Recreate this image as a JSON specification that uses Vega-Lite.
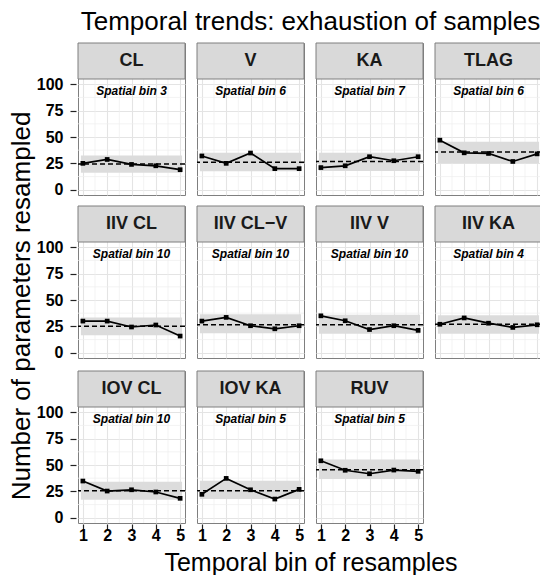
{
  "$schema": "https://vega.github.io/schema/vega-lite/v6.json",
  "padding": {"left": 8, "top": 9, "right": 0, "bottom": 0},
  "title": {"text": "Temporal trends: exhaustion of samples", "fontSize": 26, "fontWeight": "normal", "color": "black", "anchor": "middle", "offset": 6, "dx": 34},
  "spacing": 0,
  "data": {"values": [
    {"param": "CL", "spatial": "Spatial bin 3", "bin": 1, "n": 25, "exp": 24.5, "lo": 16, "hi": 32.5},
    {"param": "CL", "spatial": "Spatial bin 3", "bin": 2, "n": 28.7, "exp": 24.5, "lo": 16, "hi": 32.5},
    {"param": "CL", "spatial": "Spatial bin 3", "bin": 3, "n": 24, "exp": 24.5, "lo": 16, "hi": 32.5},
    {"param": "CL", "spatial": "Spatial bin 3", "bin": 4, "n": 22.7, "exp": 24.5, "lo": 16, "hi": 32.5},
    {"param": "CL", "spatial": "Spatial bin 3", "bin": 5, "n": 19, "exp": 24.5, "lo": 16, "hi": 32.5},
    {"param": "V", "spatial": "Spatial bin 6", "bin": 1, "n": 32, "exp": 26, "lo": 17.5, "hi": 35},
    {"param": "V", "spatial": "Spatial bin 6", "bin": 2, "n": 25, "exp": 26, "lo": 17.5, "hi": 35},
    {"param": "V", "spatial": "Spatial bin 6", "bin": 3, "n": 34.8, "exp": 26, "lo": 17.5, "hi": 35},
    {"param": "V", "spatial": "Spatial bin 6", "bin": 4, "n": 20, "exp": 26, "lo": 17.5, "hi": 35},
    {"param": "V", "spatial": "Spatial bin 6", "bin": 5, "n": 20, "exp": 26, "lo": 17.5, "hi": 35},
    {"param": "KA", "spatial": "Spatial bin 7", "bin": 1, "n": 21, "exp": 26.8, "lo": 17.7, "hi": 35},
    {"param": "KA", "spatial": "Spatial bin 7", "bin": 2, "n": 22.7, "exp": 26.8, "lo": 17.7, "hi": 35},
    {"param": "KA", "spatial": "Spatial bin 7", "bin": 3, "n": 31.3, "exp": 26.8, "lo": 17.7, "hi": 35},
    {"param": "KA", "spatial": "Spatial bin 7", "bin": 4, "n": 27.5, "exp": 26.8, "lo": 17.7, "hi": 35},
    {"param": "KA", "spatial": "Spatial bin 7", "bin": 5, "n": 31.3, "exp": 26.8, "lo": 17.7, "hi": 35},
    {"param": "TLAG", "spatial": "Spatial bin 6", "bin": 1, "n": 47, "exp": 35.7, "lo": 25, "hi": 45.5},
    {"param": "TLAG", "spatial": "Spatial bin 6", "bin": 2, "n": 35, "exp": 35.7, "lo": 25, "hi": 45.5},
    {"param": "TLAG", "spatial": "Spatial bin 6", "bin": 3, "n": 34.4, "exp": 35.7, "lo": 25, "hi": 45.5},
    {"param": "TLAG", "spatial": "Spatial bin 6", "bin": 4, "n": 26.8, "exp": 35.7, "lo": 25, "hi": 45.5},
    {"param": "TLAG", "spatial": "Spatial bin 6", "bin": 5, "n": 34, "exp": 35.7, "lo": 25, "hi": 45.5},
    {"param": "IIV CL", "spatial": "Spatial bin 10", "bin": 1, "n": 30, "exp": 25, "lo": 16.5, "hi": 33.5},
    {"param": "IIV CL", "spatial": "Spatial bin 10", "bin": 2, "n": 30, "exp": 25, "lo": 16.5, "hi": 33.5},
    {"param": "IIV CL", "spatial": "Spatial bin 10", "bin": 3, "n": 24.4, "exp": 25, "lo": 16.5, "hi": 33.5},
    {"param": "IIV CL", "spatial": "Spatial bin 10", "bin": 4, "n": 26.3, "exp": 25, "lo": 16.5, "hi": 33.5},
    {"param": "IIV CL", "spatial": "Spatial bin 10", "bin": 5, "n": 15.8, "exp": 25, "lo": 16.5, "hi": 33.5},
    {"param": "IIV CL−V", "spatial": "Spatial bin 10", "bin": 1, "n": 30, "exp": 26.5, "lo": 18.5, "hi": 36.5},
    {"param": "IIV CL−V", "spatial": "Spatial bin 10", "bin": 2, "n": 33.5, "exp": 26.5, "lo": 18.5, "hi": 36.5},
    {"param": "IIV CL−V", "spatial": "Spatial bin 10", "bin": 3, "n": 25.6, "exp": 26.5, "lo": 18.5, "hi": 36.5},
    {"param": "IIV CL−V", "spatial": "Spatial bin 10", "bin": 4, "n": 22.7, "exp": 26.5, "lo": 18.5, "hi": 36.5},
    {"param": "IIV CL−V", "spatial": "Spatial bin 10", "bin": 5, "n": 25.6, "exp": 26.5, "lo": 18.5, "hi": 36.5},
    {"param": "IIV V", "spatial": "Spatial bin 10", "bin": 1, "n": 35, "exp": 26.5, "lo": 18, "hi": 36},
    {"param": "IIV V", "spatial": "Spatial bin 10", "bin": 2, "n": 30.3, "exp": 26.5, "lo": 18, "hi": 36},
    {"param": "IIV V", "spatial": "Spatial bin 10", "bin": 3, "n": 22, "exp": 26.5, "lo": 18, "hi": 36},
    {"param": "IIV V", "spatial": "Spatial bin 10", "bin": 4, "n": 25.6, "exp": 26.5, "lo": 18, "hi": 36},
    {"param": "IIV V", "spatial": "Spatial bin 10", "bin": 5, "n": 21.2, "exp": 26.5, "lo": 18, "hi": 36},
    {"param": "IIV KA", "spatial": "Spatial bin 4", "bin": 1, "n": 27, "exp": 27, "lo": 18, "hi": 35.5},
    {"param": "IIV KA", "spatial": "Spatial bin 4", "bin": 2, "n": 33, "exp": 27, "lo": 18, "hi": 35.5},
    {"param": "IIV KA", "spatial": "Spatial bin 4", "bin": 3, "n": 28, "exp": 27, "lo": 18, "hi": 35.5},
    {"param": "IIV KA", "spatial": "Spatial bin 4", "bin": 4, "n": 24, "exp": 27, "lo": 18, "hi": 35.5},
    {"param": "IIV KA", "spatial": "Spatial bin 4", "bin": 5, "n": 26.5, "exp": 27, "lo": 18, "hi": 35.5},
    {"param": "IOV CL", "spatial": "Spatial bin 10", "bin": 1, "n": 34.8, "exp": 25.6, "lo": 17.1, "hi": 34.1},
    {"param": "IOV CL", "spatial": "Spatial bin 10", "bin": 2, "n": 25.3, "exp": 25.6, "lo": 17.1, "hi": 34.1},
    {"param": "IOV CL", "spatial": "Spatial bin 10", "bin": 3, "n": 26.5, "exp": 25.6, "lo": 17.1, "hi": 34.1},
    {"param": "IOV CL", "spatial": "Spatial bin 10", "bin": 4, "n": 24.4, "exp": 25.6, "lo": 17.1, "hi": 34.1},
    {"param": "IOV CL", "spatial": "Spatial bin 10", "bin": 5, "n": 18.4, "exp": 25.6, "lo": 17.1, "hi": 34.1},
    {"param": "IOV KA", "spatial": "Spatial bin 5", "bin": 1, "n": 22.2, "exp": 25.6, "lo": 17.7, "hi": 35},
    {"param": "IOV KA", "spatial": "Spatial bin 5", "bin": 2, "n": 37.3, "exp": 25.6, "lo": 17.7, "hi": 35},
    {"param": "IOV KA", "spatial": "Spatial bin 5", "bin": 3, "n": 26.5, "exp": 25.6, "lo": 17.7, "hi": 35},
    {"param": "IOV KA", "spatial": "Spatial bin 5", "bin": 4, "n": 17.7, "exp": 25.6, "lo": 17.7, "hi": 35},
    {"param": "IOV KA", "spatial": "Spatial bin 5", "bin": 5, "n": 26.9, "exp": 25.6, "lo": 17.7, "hi": 35},
    {"param": "RUV", "spatial": "Spatial bin 5", "bin": 1, "n": 54, "exp": 45.5, "lo": 36.7, "hi": 55.3},
    {"param": "RUV", "spatial": "Spatial bin 5", "bin": 2, "n": 45, "exp": 45.5, "lo": 36.7, "hi": 55.3},
    {"param": "RUV", "spatial": "Spatial bin 5", "bin": 3, "n": 41.7, "exp": 45.5, "lo": 36.7, "hi": 55.3},
    {"param": "RUV", "spatial": "Spatial bin 5", "bin": 4, "n": 45.2, "exp": 45.5, "lo": 36.7, "hi": 55.3},
    {"param": "RUV", "spatial": "Spatial bin 5", "bin": 5, "n": 44, "exp": 45.5, "lo": 36.7, "hi": 55.3}
  ]},
  "hconcat": [
    {
      "width": 22,
      "height": 526,
      "view": {"stroke": null},
      "data": {"values": [{"t": "Number of parameters resampled"}]},
      "mark": {"type": "text", "angle": 270, "fontSize": 26, "color": "black", "baseline": "middle", "align": "center"},
      "encoding": {"text": {"field": "t"}}
    },
    {
      "spacing": 8,
      "vconcat": [
        {
          "transform": [{"filter": {"field": "param", "oneOf": ["CL", "V", "KA", "TLAG", "IIV CL", "IIV CL−V", "IIV V", "IIV KA"]}}],
          "facet": {
            "field": "param", "type": "nominal",
            "sort": ["CL", "V", "KA", "TLAG", "IIV CL", "IIV CL−V", "IIV V", "IIV KA"],
            "header": {"labels": false, "labelExpr": "''", "labelFontSize": 1, "labelPadding": 0, "title": null}
          },
          "columns": 4,
          "spacing": {"row": 8, "column": 8},
          "spec": {
            "width": 107,
            "height": 152,
            "layer": [
              {
                "mark": {"type": "line", "opacity": 0},
                "encoding": {
                  "x": {"field": "bin", "type": "quantitative",
                    "scale": {"domain": [0.8, 5.2], "nice": false, "zero": false},
                    "axis": {"values": [1, 2, 3, 4, 5], "tickCount": 20, "format": "d", "title": null, "domain": false, "grid": true, "gridColor": "#e4e4e4", "gridWidth": 1.1, "labels": false, "ticks": false}},
                  "y": {"field": "n", "type": "quantitative",
                    "scale": {"domain": [-5, 139.14], "nice": false, "zero": false},
                    "axis": {"values": [0, 25, 50, 75, 100], "tickCount": 20, "format": "d", "title": null, "domain": false, "grid": true, "gridColor": "#e4e4e4", "gridWidth": 1.1,
                      "tickSize": 6, "tickColor": "#222222", "tickWidth": 1.2, "labelPadding": 7,
                      "labelFontSize": 16, "labelFontWeight": "bold", "labelColor": "black", "labelFlush": false, "labelOverlap": false}}
                }
              },
              {"transform": [{"filter": "datum.bin == 1"}], "mark": {"type": "rule", "color": "#efefef", "strokeWidth": 0.7}, "encoding": {"y": {"datum": 12.5, "type": "quantitative"}}},
              {"transform": [{"filter": "datum.bin == 1"}], "mark": {"type": "rule", "color": "#efefef", "strokeWidth": 0.7}, "encoding": {"y": {"datum": 37.5, "type": "quantitative"}}},
              {"transform": [{"filter": "datum.bin == 1"}], "mark": {"type": "rule", "color": "#efefef", "strokeWidth": 0.7}, "encoding": {"y": {"datum": 62.5, "type": "quantitative"}}},
              {"transform": [{"filter": "datum.bin == 1"}], "mark": {"type": "rule", "color": "#efefef", "strokeWidth": 0.7}, "encoding": {"y": {"datum": 87.5, "type": "quantitative"}}},
              {"transform": [{"filter": "datum.bin == 1"}], "mark": {"type": "rule", "color": "#efefef", "strokeWidth": 0.7}, "encoding": {"x": {"datum": 1.5, "type": "quantitative"}}},
              {"transform": [{"filter": "datum.bin == 1"}], "mark": {"type": "rule", "color": "#efefef", "strokeWidth": 0.7}, "encoding": {"x": {"datum": 2.5, "type": "quantitative"}}},
              {"transform": [{"filter": "datum.bin == 1"}], "mark": {"type": "rule", "color": "#efefef", "strokeWidth": 0.7}, "encoding": {"x": {"datum": 3.5, "type": "quantitative"}}},
              {"transform": [{"filter": "datum.bin == 1"}], "mark": {"type": "rule", "color": "#efefef", "strokeWidth": 0.7}, "encoding": {"x": {"datum": 4.5, "type": "quantitative"}}},
              {
                "transform": [{"filter": "datum.bin == 1"}],
                "mark": {"type": "rect", "color": "#dcdcdc"},
                "encoding": {"x": {"datum": 0.92, "type": "quantitative"}, "x2": {"datum": 5.08}, "y": {"field": "lo", "type": "quantitative"}, "y2": {"field": "hi"}}
              },
              {
                "transform": [{"filter": "datum.bin == 1"}],
                "mark": {"type": "rule", "color": "black", "strokeWidth": 1.5, "strokeDash": [5, 3]},
                "encoding": {"y": {"field": "exp", "type": "quantitative"}}
              },
              {
                "mark": {"type": "line", "color": "black", "strokeWidth": 1.7},
                "encoding": {"x": {"field": "bin", "type": "quantitative"}, "y": {"field": "n", "type": "quantitative"}}
              },
              {
                "mark": {"type": "square", "filled": true, "color": "black", "size": 22, "opacity": 1},
                "encoding": {"x": {"field": "bin", "type": "quantitative"}, "y": {"field": "n", "type": "quantitative"}}
              },
              {
                "transform": [{"filter": "datum.bin == 1"}],
                "mark": {"type": "rect", "fill": "#d9d9d9", "stroke": "#7f7f7f", "strokeWidth": 1},
                "encoding": {"x": {"datum": 0.8, "type": "quantitative"}, "x2": {"datum": 5.2}, "y": {"datum": 105, "type": "quantitative"}, "y2": {"datum": 139.14}}
              },
              {
                "transform": [{"filter": "datum.bin == 1"}],
                "mark": {"type": "text", "fontSize": 18, "fontWeight": "bold", "color": "#1a1a1a", "baseline": "middle", "align": "center"},
                "encoding": {"x": {"datum": 3, "type": "quantitative"}, "y": {"datum": 122, "type": "quantitative"}, "text": {"field": "param"}}
              },
              {
                "transform": [{"filter": "datum.bin == 1"}],
                "mark": {"type": "text", "fontSize": 12, "fontWeight": "bold", "fontStyle": "italic", "color": "black", "baseline": "middle", "align": "center"},
                "encoding": {"x": {"datum": 3, "type": "quantitative"}, "y": {"datum": 93.5, "type": "quantitative"}, "text": {"field": "spatial"}}
              }
            ]
          }
        },
        {
          "transform": [{"filter": {"field": "param", "oneOf": ["IOV CL", "IOV KA", "RUV"]}}],
          "facet": {
            "field": "param", "type": "nominal",
            "sort": ["IOV CL", "IOV KA", "RUV"],
            "header": {"labels": false, "labelExpr": "''", "labelFontSize": 1, "labelPadding": 0, "title": null}
          },
          "columns": 4,
          "spacing": {"row": 8, "column": 8},
          "spec": {
            "width": 107,
            "height": 152,
            "layer": [
              {
                "mark": {"type": "line", "opacity": 0},
                "encoding": {
                  "x": {"field": "bin", "type": "quantitative",
                    "scale": {"domain": [0.8, 5.2], "nice": false, "zero": false},
                    "axis": {"values": [1, 2, 3, 4, 5], "tickCount": 20, "format": "d", "title": null, "domain": false, "grid": true, "gridColor": "#e4e4e4", "gridWidth": 1.1,
                      "tickSize": 5, "tickColor": "#222222", "tickWidth": 1.2, "labelPadding": -2,
                      "labelFontSize": 16, "labelFontWeight": "bold", "labelColor": "black", "labelFlush": false, "labelOverlap": false}},
                  "y": {"field": "n", "type": "quantitative",
                    "scale": {"domain": [-5, 139.14], "nice": false, "zero": false},
                    "axis": {"values": [0, 25, 50, 75, 100], "tickCount": 20, "format": "d", "title": null, "domain": false, "grid": true, "gridColor": "#e4e4e4", "gridWidth": 1.1,
                      "tickSize": 6, "tickColor": "#222222", "tickWidth": 1.2, "labelPadding": 7,
                      "labelFontSize": 16, "labelFontWeight": "bold", "labelColor": "black", "labelFlush": false, "labelOverlap": false}}
                }
              },
              {"transform": [{"filter": "datum.bin == 1"}], "mark": {"type": "rule", "color": "#efefef", "strokeWidth": 0.7}, "encoding": {"y": {"datum": 12.5, "type": "quantitative"}}},
              {"transform": [{"filter": "datum.bin == 1"}], "mark": {"type": "rule", "color": "#efefef", "strokeWidth": 0.7}, "encoding": {"y": {"datum": 37.5, "type": "quantitative"}}},
              {"transform": [{"filter": "datum.bin == 1"}], "mark": {"type": "rule", "color": "#efefef", "strokeWidth": 0.7}, "encoding": {"y": {"datum": 62.5, "type": "quantitative"}}},
              {"transform": [{"filter": "datum.bin == 1"}], "mark": {"type": "rule", "color": "#efefef", "strokeWidth": 0.7}, "encoding": {"y": {"datum": 87.5, "type": "quantitative"}}},
              {"transform": [{"filter": "datum.bin == 1"}], "mark": {"type": "rule", "color": "#efefef", "strokeWidth": 0.7}, "encoding": {"x": {"datum": 1.5, "type": "quantitative"}}},
              {"transform": [{"filter": "datum.bin == 1"}], "mark": {"type": "rule", "color": "#efefef", "strokeWidth": 0.7}, "encoding": {"x": {"datum": 2.5, "type": "quantitative"}}},
              {"transform": [{"filter": "datum.bin == 1"}], "mark": {"type": "rule", "color": "#efefef", "strokeWidth": 0.7}, "encoding": {"x": {"datum": 3.5, "type": "quantitative"}}},
              {"transform": [{"filter": "datum.bin == 1"}], "mark": {"type": "rule", "color": "#efefef", "strokeWidth": 0.7}, "encoding": {"x": {"datum": 4.5, "type": "quantitative"}}},
              {
                "transform": [{"filter": "datum.bin == 1"}],
                "mark": {"type": "rect", "color": "#dcdcdc"},
                "encoding": {"x": {"datum": 0.92, "type": "quantitative"}, "x2": {"datum": 5.08}, "y": {"field": "lo", "type": "quantitative"}, "y2": {"field": "hi"}}
              },
              {
                "transform": [{"filter": "datum.bin == 1"}],
                "mark": {"type": "rule", "color": "black", "strokeWidth": 1.5, "strokeDash": [5, 3]},
                "encoding": {"y": {"field": "exp", "type": "quantitative"}}
              },
              {
                "mark": {"type": "line", "color": "black", "strokeWidth": 1.7},
                "encoding": {"x": {"field": "bin", "type": "quantitative"}, "y": {"field": "n", "type": "quantitative"}}
              },
              {
                "mark": {"type": "square", "filled": true, "color": "black", "size": 22, "opacity": 1},
                "encoding": {"x": {"field": "bin", "type": "quantitative"}, "y": {"field": "n", "type": "quantitative"}}
              },
              {
                "transform": [{"filter": "datum.bin == 1"}],
                "mark": {"type": "rect", "fill": "#d9d9d9", "stroke": "#7f7f7f", "strokeWidth": 1},
                "encoding": {"x": {"datum": 0.8, "type": "quantitative"}, "x2": {"datum": 5.2}, "y": {"datum": 105, "type": "quantitative"}, "y2": {"datum": 139.14}}
              },
              {
                "transform": [{"filter": "datum.bin == 1"}],
                "mark": {"type": "text", "fontSize": 18, "fontWeight": "bold", "color": "#1a1a1a", "baseline": "middle", "align": "center"},
                "encoding": {"x": {"datum": 3, "type": "quantitative"}, "y": {"datum": 122, "type": "quantitative"}, "text": {"field": "param"}}
              },
              {
                "transform": [{"filter": "datum.bin == 1"}],
                "mark": {"type": "text", "fontSize": 12, "fontWeight": "bold", "fontStyle": "italic", "color": "black", "baseline": "middle", "align": "center"},
                "encoding": {"x": {"datum": 3, "type": "quantitative"}, "y": {"datum": 93.5, "type": "quantitative"}, "text": {"field": "spatial"}}
              }
            ]
          }
        },
        {
          "width": 466,
          "height": 22,
          "view": {"stroke": null},
          "data": {"values": [{"t": "Temporal bin of resamples"}]},
          "mark": {"type": "text", "fontSize": 25, "color": "black", "baseline": "middle", "align": "center"},
          "encoding": {"text": {"field": "t"}}
        }
      ]
    }
  ],
  "config": {
    "font": "Liberation Sans",
    "view": {"stroke": "#7f7f7f", "strokeWidth": 1},
    "axis": {"labelOverlap": false}
  }
}
